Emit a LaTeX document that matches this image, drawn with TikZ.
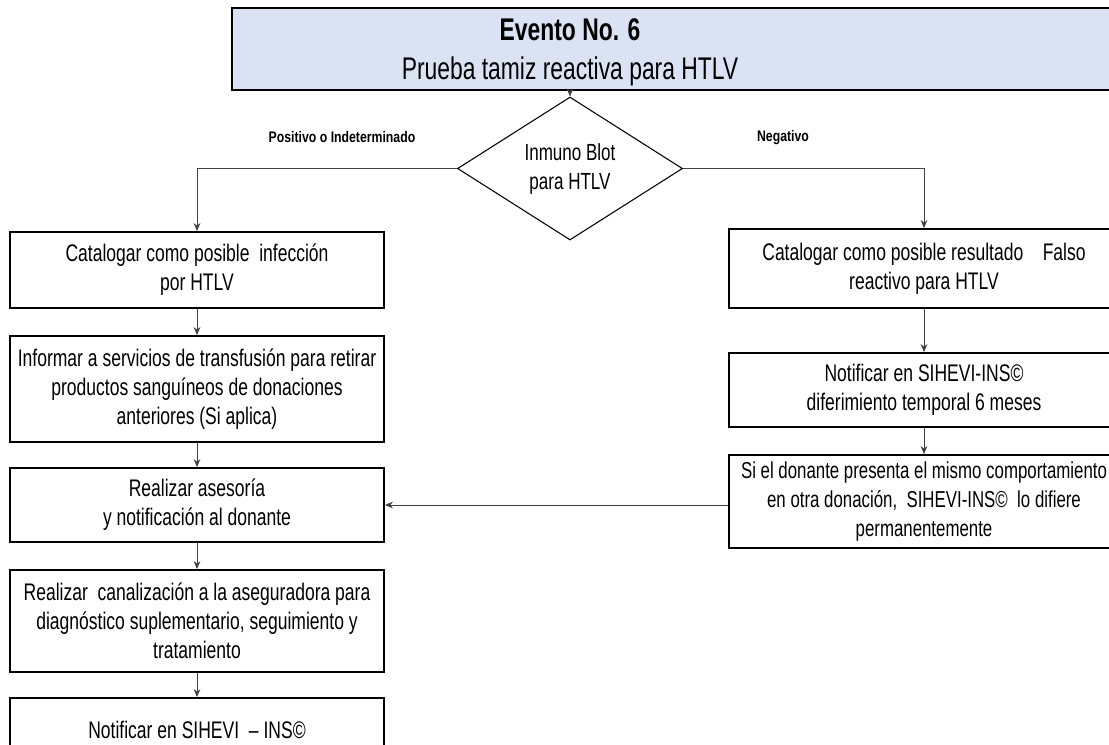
\documentclass[tikz,border=0pt]{standalone}
\usepackage{fontspec}
\setmainfont[FakeStretch=0.73]{Liberation Sans}
\newfontfamily\lblfont[FakeStretch=0.8]{Liberation Sans}
\usetikzlibrary{shapes.geometric,arrows.meta}
\definecolor{headblue}{HTML}{DAE3F3}
\definecolor{linegray}{HTML}{404040}

\begin{document}
\begin{tikzpicture}[x=0.75pt,y=-0.75pt,
  caja/.style={rectangle,draw,line width=1.4pt,fill=white,align=center,inner sep=2pt,
    font=\fontsize{18}{21.75}\selectfont},
  flecha/.style={draw=linegray,line width=0.6pt,-{Stealth[length=6pt,width=5pt]}}]
\useasboundingbox (0,0) rectangle (1109,744);
\clip (0,0) rectangle (1109,744);
% encabezado
\node[rectangle,draw,line width=2pt,fill=headblue,minimum width=662.25pt,minimum height=61.5pt](evento) at (673.5,49) {};
\node[align=center,font=\fontsize{23.5}{29}\selectfont](eventotxt) at (570,52) {\textbf{Evento No. 6}\\Prueba tamiz reactiva para HTLV};
% decision
\node[diamond,draw,line width=0.8pt,fill=white,minimum width=168.75pt,minimum height=107.25pt,inner sep=0pt,align=center,font=\fontsize{17.5}{21.75}\selectfont](blot) at (570,168.5) {Inmuno Blot\\para HTLV};
\node[font=\lblfont\bfseries\fontsize{11.5}{14}\selectfont](pos) at (342,137.5) {Positivo o Indeterminado};
\node[font=\lblfont\bfseries\fontsize{11.5}{14}\selectfont](neg) at (783,137.5) {Negativo};
% rama izquierda
\node[caja,minimum width=280.5pt,minimum height=57pt](izq1) at (197,270) {Catalogar como posible\ \ infección\\por HTLV};
\node[caja,minimum width=280.5pt,minimum height=79.5pt](izq2) at (197,389) {Informar a servicios de transfusión para retirar\\productos sanguíneos de donaciones\\anteriores (Si aplica)};
\node[caja,minimum width=280.5pt,minimum height=55.5pt](izq3) at (197,505) {Realizar asesoría\\y notificación al donante};
\node[caja,minimum width=280.5pt,minimum height=76.5pt](izq4) at (197,621) {Realizar\ \ canalización a la aseguradora para\\diagnóstico suplementario, seguimiento y\\tratamiento};
\node[caja,minimum width=280.5pt,minimum height=48pt](izq5) at (197,730) {Notificar en SIHEVI\ \ -- INS©};
% rama derecha
\node[caja,minimum width=292.5pt,minimum height=59.25pt](der1) at (924,268.5) {Catalogar como posible resultado\ \ \ \ Falso\\reactivo para HTLV};
\node[caja,minimum width=292.5pt,minimum height=55.5pt](der2) at (924,390) {Notificar en SIHEVI-INS©\\diferimiento temporal 6 meses};
\node[caja,minimum width=292.5pt,minimum height=69.75pt,font=\fontsize{17.3}{21.75}\selectfont](der3) at (924,501.5) {Si el donante presenta el mismo comportamiento\\en otra donación,\ \ SIHEVI-INS©\ \ lo difiere\\permanentemente};
% conectores
\draw[flecha] (evento.south -| blot.north) -- (blot.north);
\draw[flecha] (blot.west) -| (izq1.north);
\draw[flecha] (blot.east) -| (der1.north);
\draw[flecha] (izq1) -- (izq2);
\draw[flecha] (izq2) -- (izq3);
\draw[flecha] (izq3) -- (izq4);
\draw[flecha] (izq4) -- (izq5);
\draw[flecha] (der1) -- (der2);
\draw[flecha] (der2) -- (der3);
\draw[flecha] (izq3.east -| der3.west) -- (izq3.east);
\end{tikzpicture}
\end{document}
